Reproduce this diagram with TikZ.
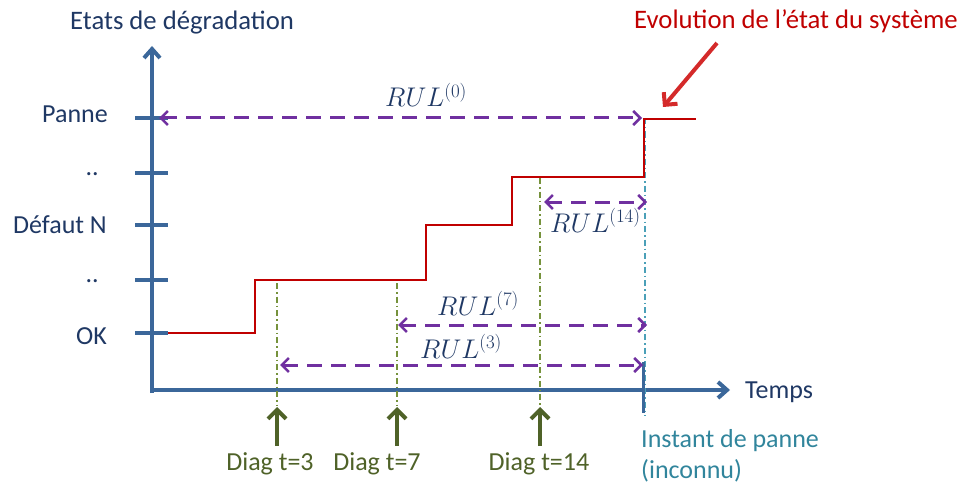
\RequirePackage{fix-cm}
\documentclass[tikz,border=0pt]{standalone}
\usepackage{fontspec}
\setmainfont{Carlito}
\usetikzlibrary{arrows.meta}
\DeclareMathSizes{27}{27}{19}{14}
\definecolor{axisblue}{HTML}{3B679A}
\definecolor{navy}{HTML}{1F3864}
\definecolor{redline}{HTML}{C00000}
\definecolor{redarrow}{HTML}{D42A2A}
\definecolor{purp}{HTML}{7030A0}
\definecolor{olive}{HTML}{76923C}
\definecolor{darkolive}{HTML}{4F6228}
\definecolor{teal}{HTML}{4BA0B8}
\definecolor{tealtext}{HTML}{31859C}
\tikzset{
  lab/.style={font=\fontsize{26}{30}\selectfont, text=navy, inner sep=0pt},
  title/.style={font=\fontsize{26.7}{31}\selectfont, text=navy, inner sep=0pt},
  rul/.style={font=\fontsize{27}{30}\selectfont, text=navy, inner sep=0pt},
  axisline/.style={draw=axisblue, line width=4pt},
  tickline/.style={draw=axisblue, line width=4pt},
  axarrow/.style={-{Straight Barb[length=9pt,width=16pt,line width=4pt]}},
  rulline/.style={draw=purp, line width=3pt, dash pattern=on 15pt off 9pt,
     {Straight Barb[length=7pt,width=14pt,line width=2.5pt]}-{Straight Barb[length=7pt,width=14pt,line width=2.5pt]}},
  diagline/.style={draw=olive, line width=1.5pt, dash pattern=on 6pt off 3pt on 1.5pt off 3pt},
  failline/.style={draw=teal, line width=1.5pt, dash pattern=on 6pt off 3pt on 1.5pt off 3pt},
  diagarrow/.style={draw=darkolive, line width=4pt, -{Straight Barb[length=9pt,width=18pt,line width=4pt]}},
  diaglab/.style={font=\fontsize{26}{30}\selectfont, text=darkolive, inner sep=0pt},
}
\begin{document}
\begin{tikzpicture}[x=1pt,y=-1pt]
\useasboundingbox (0,0) rectangle (963,484);
% axes
\coordinate (O) at (152,393);
\coordinate (ytop) at (152,46);
\coordinate (xend) at (730,390);
\coordinate (xstart) at (150,390);
\draw[axisline, axarrow] (O) -- (ytop);
\draw[axisline, axarrow] (xstart) -- (xend);
% ticks
\foreach \n/\y in {t0/118, t1/173, t2/225, t3/280, t4/333}{
  \coordinate (\n a) at (135,\y);
  \coordinate (\n b) at (168,\y);
  \draw[tickline] (\n a) -- (\n b);
}
% y labels
\node[lab, anchor=base east] (panne) at (108,123) {Panne};
\node[lab, anchor=base east] (dots1) at (99,175) {..};
\node[lab, anchor=base east] (defaut) at (107,233) {Défaut N};
\node[lab, anchor=base east] (dots2) at (99,282) {..};
\node[lab, anchor=base east] (ok) at (107,344) {OK};
\node[title, anchor=base west] (etats) at (70,30) {Etats de dégradation};
\node[lab, anchor=base west] (temps) at (745,398) {Temps};
\node[title, anchor=base east, text=redline] (evol) at (958,29) {Evolution de l’état du système};
% failure instant
\coordinate (fa) at (645,118);
\coordinate (fb) at (645,416);
\draw[failline] (fa) -- (fb);
\coordinate (fta) at (643,362);
\coordinate (ftb) at (643,413);
\draw[draw=axisblue, line width=3pt] (fta) -- (ftb);
\node[lab, anchor=base west, text=tealtext] (inst) at (641,447) {Instant de panne};
\node[lab, anchor=base west, text=tealtext] (inco) at (641,478) {(inconnu)};
% diag lines
\coordinate (d3a) at (277,283); \coordinate (d3b) at (277,405);
\coordinate (d7a) at (397,283); \coordinate (d7b) at (397,405);
\coordinate (d14a) at (540,178); \coordinate (d14b) at (540,405);
\draw[diagline] (d3a) -- (d3b);
\draw[diagline] (d7a) -- (d7b);
\draw[diagline] (d14a) -- (d14b);
% red step
\coordinate (s0) at (168,333);
\draw[draw=redline, line width=2.5pt, line join=miter] (s0) -- (255,333) -- (255,280) -- (426,280) -- (426,225) -- (512,225) -- (512,177) -- (644,177) -- (644,119) -- (696,119);
% red arrow
\coordinate (ra) at (717,43);
\coordinate (rb) at (663,107);
\draw[draw=redarrow, line width=4pt, -{Straight Barb[length=9pt,width=18pt,line width=4pt]}] (ra) -- (rb);
% diag arrows
\coordinate (a3a) at (277,446); \coordinate (a3b) at (277,407);
\coordinate (a7a) at (397,446); \coordinate (a7b) at (397,407);
\coordinate (a14a) at (540,446); \coordinate (a14b) at (540,407);
\draw[diagarrow] (a3a) -- (a3b);
\draw[diagarrow] (a7a) -- (a7b);
\draw[diagarrow] (a14a) -- (a14b);
\node[diaglab, anchor=base] (dg3) at (270,470) {Diag t=3};
\node[diaglab, anchor=base] (dg7) at (377,470) {Diag t=7};
\node[diaglab, anchor=base] (dg14) at (539,470) {Diag t=14};
% RUL arrows
\coordinate (r0a) at (159,118); \coordinate (r0b) at (642,118);
\draw[rulline] (r0a) -- (r0b);
\node[rul, anchor=base west] (rul0) at (385,107) {$RUL^{(0)}$};
\coordinate (r14a) at (544,202); \coordinate (r14b) at (647,202);
\draw[rulline] (r14a) -- (r14b);
\node[rul, anchor=base west] (rul14) at (550,232) {$RUL^{(14)}$};
\coordinate (r7a) at (398,325); \coordinate (r7b) at (647,325);
\draw[rulline] (r7a) -- (r7b);
\node[rul, anchor=base west] (rul7) at (437,315) {$RUL^{(7)}$};
\coordinate (r3a) at (280,365); \coordinate (r3b) at (643,365);
\draw[rulline] (r3a) -- (r3b);
\node[rul, anchor=base west] (rul3) at (420,358) {$RUL^{(3)}$};
\end{tikzpicture}
\end{document}
